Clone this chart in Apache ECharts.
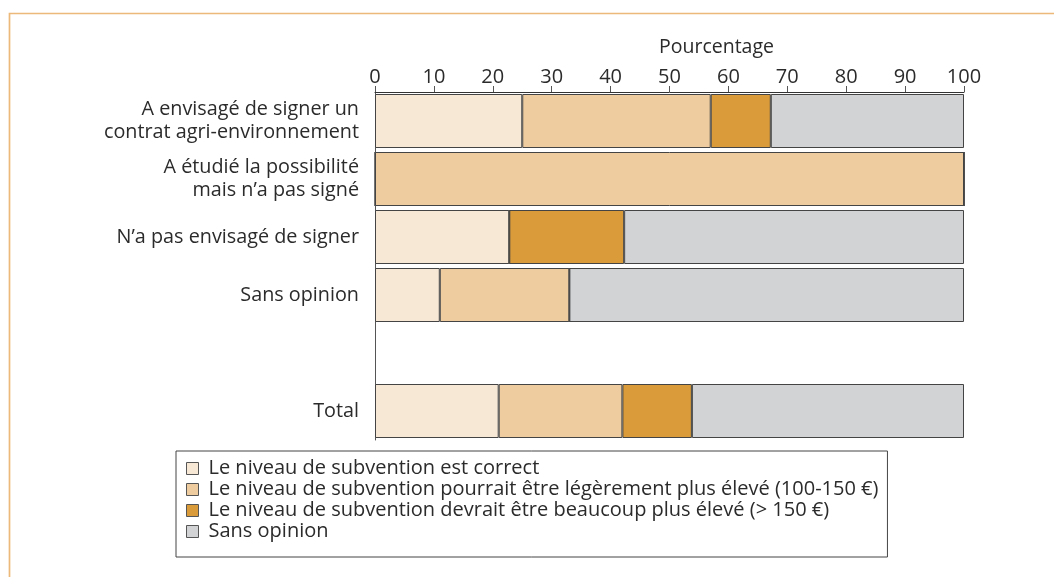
<!DOCTYPE html>
<html>
<head>
<meta charset="utf-8">
<script src="https://cdn.jsdelivr.net/npm/echarts@6/dist/echarts.min.js"></script>
<style>
  html, body { margin: 0; padding: 0; background: #fff; }
  #chart { width: 1054px; height: 577px; }
</style>
</head>
<body>
<div id="chart"></div>
<script>
// catégories (la ligne vide sépare le total)
var categories = [
  'A envisagé de signer un\ncontrat agri-environnement',
  'A étudié la possibilité\nmais n\u2019a pas signé',
  'N\u2019a pas envisagé de signer',
  'Sans opinion',
  '',
  'Total'
];
var seriesNames = [
  'Le niveau de subvention est correct',
  'Le niveau de subvention pourrait être légèrement plus élevé (100-150 €)',
  'Le niveau de subvention devrait être beaucoup plus élevé (> 150 €)',
  'Sans opinion'
];
var correct     = [25, 0, 22.8, 11, '-', 21];
var legerement  = [32, 100, 0, 22, '-', 21];
var beaucoup    = [10.2, 0, 19.5, 0, '-', 11.8];
var sansOpinion = [32.8, 0, 57.7, 67, '-', 46.2];
var ticks = [0, 10, 20, 30, 40, 50, 60, 70, 80, 90, 100];

var colors = ['#F7E8D6', '#EECC9F', '#DA9B3B', '#D2D3D5'];
var font = 'Open Sans';
var textColor = '#2b2b2b';

var chart = echarts.init(document.getElementById('chart'));

function barSerie(i, data) {
  return {
    name: seriesNames[i],
    type: 'bar',
    stack: 'total',
    barWidth: 54,
    data: data,
    itemStyle: { color: colors[i], borderColor: '#444', borderWidth: 1 },
    emphasis: { disabled: true }
  };
}

var option = {
  animation: false,
  textStyle: { fontFamily: font },
  grid: { left: 375, right: 90, top: 92, bottom: 137 },
  xAxis: {
    type: 'value',
    position: 'top',
    min: 0, max: 100, interval: 10,
    name: 'Pourcentage',
    nameLocation: 'middle',
    nameGap: 35,
    nameTextStyle: { color: textColor, fontSize: 19.5, fontFamily: font, padding: [0, 0, 0, 94] },
    axisLine: { show: true, lineStyle: { color: '#333', width: 1 } },
    axisTick: { show: true, length: 6, lineStyle: { color: '#555' } },
    axisLabel: { color: textColor, fontSize: 20, margin: 5, fontFamily: font,
      formatter: function (v) { return ticks.indexOf(v) >= 0 ? String(v) : ''; } },
    splitLine: { show: false }
  },
  yAxis: {
    type: 'category',
    inverse: true,
    data: categories,
    axisLine: { show: true, lineStyle: { color: '#555', width: 1 } },
    axisTick: { show: false },
    axisLabel: { color: textColor, fontSize: 19.8, margin: 16, lineHeight: 23, align: 'right', fontFamily: font }
  },
  legend: {
    orient: 'vertical',
    left: 176,
    top: 451,
    width: 712,
    padding: [7, 9, 15, 10],
    itemGap: 0,
    itemWidth: 12,
    itemHeight: 12,
    icon: 'rect',
    borderColor: '#444',
    borderWidth: 1,
    selectedMode: false,
    textStyle: { color: textColor, fontSize: 20, lineHeight: 21, fontFamily: font, padding: [0, 0, 0, 5] },
    itemStyle: { borderColor: '#555', borderWidth: 1 },
    data: seriesNames
  },
  graphic: [
    { type: 'polyline', silent: true,
      shape: { points: [[9.5, 577], [9.5, 13.5], [1054, 13.5]] },
      style: { stroke: '#EDB97A', lineWidth: 1.7, fill: null } }
  ],
  series: [
    barSerie(0, correct),
    barSerie(1, legerement),
    barSerie(2, beaucoup),
    barSerie(3, sansOpinion)
  ]
};

chart.setOption(option);
</script>
</body>
</html>
